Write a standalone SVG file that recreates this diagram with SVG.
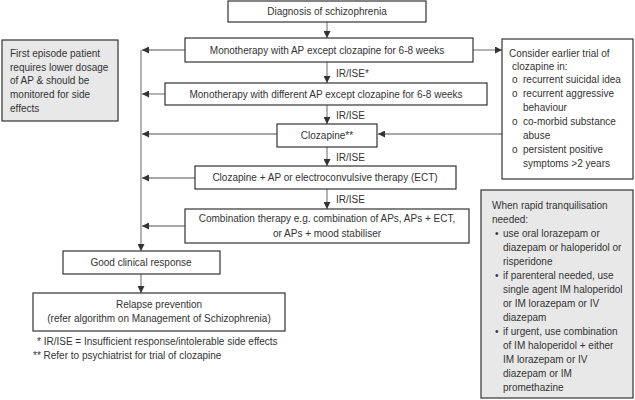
<svg xmlns="http://www.w3.org/2000/svg" width="635" height="400" viewBox="0 0 635 400">
<style>
text{font-family:"Liberation Sans",Arial,sans-serif;font-size:10px;fill:#333}
.c{text-anchor:middle}
.box{fill:#fff;stroke:#333;stroke-width:1.2}
.gbox{fill:#e8e8e8;stroke:#333;stroke-width:1.2}
.ln{fill:none;stroke:#8a8a8a;stroke-width:1.3}
</style>
<defs>
<marker id="ah" markerUnits="userSpaceOnUse" markerWidth="8" markerHeight="7" refX="7" refY="3.5" orient="auto">
<path d="M0,0 L7,3.5 L0,7 z" fill="#333"/>
</marker>
</defs>
<rect width="635" height="400" fill="#fff"/>

<g id="connectors">
<line class="ln" x1="327" y1="22" x2="327" y2="38" marker-end="url(#ah)"/>
<line class="ln" x1="327" y1="62" x2="327" y2="83" marker-end="url(#ah)"/>
<line class="ln" x1="327" y1="105" x2="327" y2="124" marker-end="url(#ah)"/>
<line class="ln" x1="327" y1="147" x2="327" y2="166" marker-end="url(#ah)"/>
<line class="ln" x1="327" y1="189" x2="327" y2="209" marker-end="url(#ah)"/>
<line class="ln" x1="473" y1="50" x2="502" y2="50" marker-end="url(#ah)"/>
<line class="ln" x1="502" y1="134" x2="378" y2="134" marker-end="url(#ah)"/>
<line class="ln" x1="185" y1="50" x2="142" y2="50" marker-end="url(#ah)"/>
<line class="ln" x1="165" y1="94" x2="142" y2="94" marker-end="url(#ah)"/>
<line class="ln" x1="277" y1="134" x2="142" y2="134" marker-end="url(#ah)"/>
<line class="ln" x1="195" y1="178" x2="142" y2="178" marker-end="url(#ah)"/>
<line class="ln" x1="185" y1="226" x2="142" y2="226" marker-end="url(#ah)"/>
<line class="ln" x1="141" y1="50" x2="141" y2="251" marker-end="url(#ah)"/>
<line class="ln" x1="141" y1="274" x2="141" y2="293" marker-end="url(#ah)"/>
<text x="336" y="77">IR/ISE*</text>
<text x="336" y="119">IR/ISE</text>
<text x="336" y="161">IR/ISE</text>
<text x="336" y="203">IR/ISE</text>
</g>

<g id="diagnosis">
<rect class="box" x="228" y="1" width="198" height="21"/>
<text class="c" x="327" y="15">Diagnosis of schizophrenia</text>
</g>

<g id="mono1">
<rect class="box" x="185" y="38" width="288" height="24"/>
<text class="c" x="327" y="54">Monotherapy with AP except clozapine for 6-8 weeks</text>
</g>

<g id="mono2">
<rect class="box" x="165" y="83" width="322" height="22"/>
<text class="c" x="326" y="98">Monotherapy with different AP except clozapine for 6-8 weeks</text>
</g>

<g id="clozapine">
<rect class="box" x="277" y="124" width="100" height="23"/>
<text class="c" x="327" y="139">Clozapine**</text>
</g>

<g id="clozapine-ap">
<rect class="box" x="195" y="166" width="261" height="23"/>
<text class="c" x="325" y="181">Clozapine + AP or electroconvulsive therapy (ECT)</text>
</g>

<g id="combination">
<rect class="box" x="185" y="209" width="284" height="34"/>
<text class="c" x="327" y="222">Combination therapy e.g. combination of APs, APs + ECT,</text>
<text class="c" x="327" y="237">or APs + mood stabiliser</text>
</g>

<g id="good-response">
<rect class="box" x="63" y="251" width="157" height="23"/>
<text class="c" x="141" y="266">Good clinical response</text>
</g>

<g id="relapse">
<rect class="box" x="33" y="293" width="252" height="38"/>
<text class="c" x="159" y="308">Relapse prevention</text>
<text class="c" x="159" y="322">(refer algorithm on Management of Schizophrenia)</text>
</g>

<g id="footnotes">
<text x="37" y="345">* IR/ISE = Insufficient response/intolerable side effects</text>
<text x="33" y="359">** Refer to psychiatrist for trial of clozapine</text>
</g>

<g id="first-episode">
<rect class="gbox" x="2" y="40" width="116" height="81"/>
<text x="10" y="57">First episode patient</text>
<text x="10" y="71">requires lower dosage</text>
<text x="10" y="84">of AP &amp; should be</text>
<text x="10" y="98">monitored for side</text>
<text x="10" y="112">effects</text>
</g>

<g id="earlier-clozapine">
<rect class="box" x="502" y="39" width="131" height="140"/>
<text x="509" y="57">Consider earlier trial of</text>
<text x="512" y="70">clozapine in:</text>
<text x="512" y="83">o</text><text x="523" y="83">recurrent suicidal idea</text>
<text x="512" y="97">o</text><text x="523" y="97">recurrent aggressive</text>
<text x="523" y="111">behaviour</text>
<text x="512" y="125">o</text><text x="523" y="125">co-morbid substance</text>
<text x="523" y="139">abuse</text>
<text x="512" y="153">o</text><text x="523" y="153">persistent positive</text>
<text x="523" y="167">symptoms &gt;2 years</text>
</g>

<g id="rapid-tranquilisation">
<rect class="gbox" x="481" y="190" width="152" height="208"/>
<text x="492" y="209">When rapid tranquilisation</text>
<text x="492" y="223">needed:</text>
<text x="495" y="237">•</text><text x="503" y="237">use oral lorazepam or</text>
<text x="503" y="251">diazepam or haloperidol or</text>
<text x="503" y="265">risperidone</text>
<text x="495" y="279">•</text><text x="503" y="279">if parenteral needed, use</text>
<text x="503" y="293">single agent IM haloperidol</text>
<text x="503" y="307">or IM lorazepam or IV</text>
<text x="503" y="321">diazepam</text>
<text x="495" y="335">•</text><text x="503" y="335">if urgent, use combination</text>
<text x="503" y="349">of IM haloperidol + either</text>
<text x="503" y="363">IM lorazepam or IV</text>
<text x="503" y="377">diazepam or IM</text>
<text x="503" y="391">promethazine</text>
</g>
</svg>
